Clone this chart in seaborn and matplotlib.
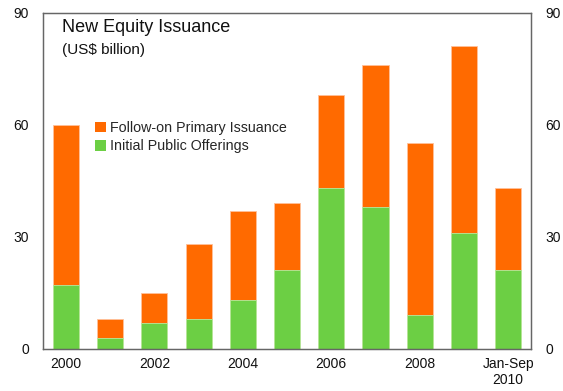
import matplotlib
matplotlib.use("Agg")
import matplotlib.pyplot as plt
import seaborn as sns
import pandas as pd
from matplotlib.patches import Patch

# New equity issuance, US$ billion
years = ["2000", "2001", "2002", "2003", "2004", "2005", "2006", "2007", "2008", "2009", "Jan-Sep\n2010"]
ipo = [17, 3, 7, 8, 13, 21, 43, 38, 9, 31, 21]
follow_on = [43, 5, 8, 20, 24, 18, 25, 38, 46, 50, 22]
tick_labels = ["2000", "", "2002", "", "2004", "", "2006", "", "2008", "", "Jan-Sep\n2010"]
y_ticks = [0, 30, 60, 90]

ORANGE = "#ff6a00"
GREEN = "#6ccf44"

sns.set_theme(style="white")
plt.rcParams["font.family"] = ["Liberation Sans", "DejaVu Sans"]

df = pd.DataFrame({"year": years, "ipo": ipo, "follow_on": follow_on})
df["total"] = df["ipo"] + df["follow_on"]

fig = plt.figure(figsize=(5.63, 3.91), dpi=100)
ax = fig.add_axes([0.0764, 0.108, 0.867, 0.860])

# stacked bars: total in orange, IPO portion in green over it
sns.barplot(data=df, x="year", y="total", color=ORANGE, saturation=1,
            width=0.59, edgecolor="#ffc09a", linewidth=0.6, ax=ax)
sns.barplot(data=df, x="year", y="ipo", color=GREEN, saturation=1,
            width=0.59, edgecolor="#b5eaa0", linewidth=0.6, ax=ax)

ax.set_xlim(-0.52, 10.52)
ax.set_ylim(0, 90)
ax.set_yticks(y_ticks)
ax.set_xticks(range(len(years)))
ax.set_xticklabels(tick_labels)
ax.set_xlabel("")
ax.set_ylabel("")
ax.tick_params(axis="both", length=0, labelsize=10, colors="#111111")
ax.tick_params(axis="y", pad=10)
ax.tick_params(axis="x", pad=6)

ax2 = ax.twinx()
ax2.set_ylim(0, 90)
ax2.set_yticks(y_ticks)
ax2.tick_params(axis="y", length=0, labelsize=10, colors="#111111", pad=10)

for a in (ax, ax2):
    for s in a.spines.values():
        s.set_color("#666666")
        s.set_linewidth(0.9)
        s.set_visible(True)

ax.text(0.039, 0.980, "New Equity Issuance", transform=ax.transAxes,
        fontsize=13, va="top", ha="left", color="#111111")
ax.text(0.039, 0.910, "(US$ billion)", transform=ax.transAxes,
        fontsize=11, va="top", ha="left", color="#111111")

handles = [Patch(facecolor=ORANGE, edgecolor="none", label="Follow-on Primary Issuance"),
           Patch(facecolor=GREEN, edgecolor="none", label="Initial Public Offerings")]
ax.legend(handles=handles, loc="upper left", bbox_to_anchor=(0.107, 0.677),
          frameon=False, fontsize=10.3, handlelength=0.75, handleheight=0.75,
          handletextpad=0.3, labelspacing=0.3, borderpad=0, borderaxespad=0)

fig.savefig("out.png", dpi=100)
